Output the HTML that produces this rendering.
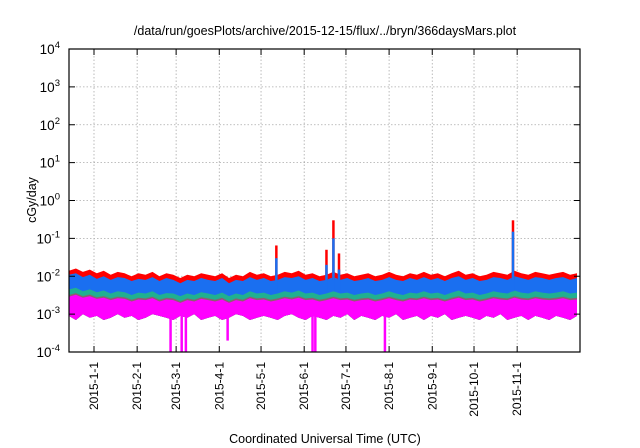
<!DOCTYPE html>
<html><head><meta charset="utf-8"><style>
body{margin:0;background:#fff;}
svg{display:block;font-family:"Liberation Sans",sans-serif;}
</style></head><body>
<svg id="chart" width="640" height="448" viewBox="0 0 640 448" xmlns="http://www.w3.org/2000/svg">
<text x="325" y="35" text-anchor="middle" font-size="12.5">/data/run/goesPlots/archive/2015-12-15/flux/../bryn/366daysMars.plot</text>
<text transform="translate(36,200) rotate(-90)" text-anchor="middle" font-size="12.5">cGy/day</text>
<text x="325" y="443" text-anchor="middle" font-size="12.5">Coordinated Universal Time (UTC)</text>
<g id="grid"></g><g id="series"></g><g id="axes"></g>
</svg>
<script>
const monthLabels=["2015-1-1","2015-2-1","2015-3-1","2015-4-1","2015-5-1","2015-6-1","2015-7-1","2015-8-1","2015-9-1","2015-10-1","2015-11-1"];
const monthDays=[0,31,59,90,120,151,181,212,243,273,304];
const decades=[-4,-3,-2,-1,0,1,2,3,4];
const startDay=-18, stepDays=5;
const redTop=[0.014,0.016,0.013,0.015,0.012,0.014,0.011,0.013,0.012,0.010,0.012,0.011,0.013,0.010,0.012,0.011,0.009,0.011,0.010,0.012,0.011,0.010,0.012,0.009,0.011,0.010,0.013,0.011,0.012,0.010,0.011,0.013,0.012,0.014,0.011,0.012,0.010,0.011,0.013,0.011,0.012,0.010,0.011,0.012,0.010,0.011,0.013,0.011,0.010,0.012,0.011,0.013,0.011,0.012,0.010,0.012,0.014,0.011,0.012,0.010,0.011,0.013,0.012,0.011,0.014,0.012,0.011,0.013,0.012,0.011,0.012,0.013,0.011,0.012];
const blueTop=[0.011,0.012,0.0095,0.011,0.0085,0.010,0.008,0.0095,0.009,0.0075,0.0085,0.008,0.0095,0.0075,0.009,0.008,0.0065,0.008,0.0075,0.009,0.008,0.0075,0.009,0.0065,0.008,0.0075,0.0095,0.008,0.009,0.0075,0.008,0.0095,0.009,0.010,0.008,0.009,0.0075,0.008,0.0095,0.008,0.009,0.0075,0.008,0.009,0.0075,0.008,0.0095,0.008,0.0075,0.009,0.008,0.0095,0.008,0.009,0.0075,0.009,0.010,0.008,0.009,0.0075,0.008,0.0095,0.009,0.008,0.010,0.009,0.008,0.0095,0.009,0.008,0.009,0.0095,0.008,0.009];
const greenTop=[0.0045,0.005,0.004,0.0045,0.0038,0.0042,0.0035,0.004,0.0038,0.0032,0.0037,0.0035,0.004,0.0032,0.0036,0.0035,0.003,0.0035,0.0032,0.0038,0.0035,0.0032,0.0037,0.003,0.0035,0.0032,0.004,0.0035,0.0037,0.0032,0.0035,0.004,0.0037,0.0042,0.0035,0.0037,0.0032,0.0035,0.004,0.0035,0.0037,0.0032,0.0035,0.0037,0.0032,0.0035,0.004,0.0035,0.0032,0.0037,0.0035,0.004,0.0035,0.0037,0.0032,0.0037,0.0042,0.0035,0.0037,0.0032,0.0035,0.004,0.0037,0.0035,0.0042,0.0037,0.0035,0.004,0.0037,0.0035,0.0037,0.004,0.0035,0.0037];
const magTop=[0.0032,0.0036,0.003,0.0033,0.0028,0.003,0.0026,0.0029,0.0028,0.0024,0.0027,0.0026,0.0029,0.0024,0.0027,0.0026,0.0022,0.0026,0.0024,0.0028,0.0026,0.0024,0.0027,0.0022,0.0026,0.0024,0.0029,0.0026,0.0027,0.0024,0.0026,0.0029,0.0027,0.003,0.0026,0.0027,0.0024,0.0026,0.0029,0.0026,0.0027,0.0024,0.0026,0.0027,0.0024,0.0026,0.0029,0.0026,0.0024,0.0027,0.0026,0.0029,0.0026,0.0027,0.0024,0.0027,0.003,0.0026,0.0027,0.0024,0.0026,0.0029,0.0027,0.0026,0.003,0.0027,0.0026,0.0029,0.0027,0.0026,0.0027,0.0029,0.0026,0.0027];
const magBottom=[0.0009,0.0007,0.001,0.0008,0.0009,0.0007,0.0008,0.001,0.0008,0.0009,0.0007,0.0008,0.001,0.0009,0.0008,0.0007,0.0009,0.0008,0.001,0.0007,0.0008,0.0009,0.0007,0.0008,0.001,0.0009,0.0007,0.0008,0.0009,0.0008,0.0007,0.0009,0.001,0.0008,0.0007,0.0009,0.0008,0.0007,0.0009,0.0008,0.001,0.0007,0.0009,0.0008,0.0007,0.0009,0.0008,0.001,0.0007,0.0008,0.0009,0.0007,0.0009,0.0008,0.001,0.0007,0.0008,0.0009,0.0008,0.0007,0.0009,0.0008,0.001,0.0007,0.0008,0.0009,0.0007,0.0009,0.0008,0.0007,0.0009,0.0008,0.0007,0.0009];
const spikeDays=[131,167,172,176,301];
const spikeRed=[0.065,0.05,0.3,0.04,0.3];
const spikeBlue=[0.03,0.02,0.1,0.015,0.15];
const dipDays=[55,63,66,96,157,159,209];
const dipVals=[0.0001,0.0001,0.0001,0.0002,0.0001,0.0001,0.0001];
const L=69,R=580,T=49,B=352,x0=94,pxDay=1.392;
const xs=d=>x0+d*pxDay;
const ys=v=>T+(4-Math.log10(v))*(B-T)/8;
const NS="http://www.w3.org/2000/svg";
function mk(tag,attrs,parent){const e=document.createElementNS(NS,tag);for(const k in attrs)e.setAttribute(k,attrs[k]);parent.appendChild(e);return e;}
const grid=document.getElementById('grid'),ser=document.getElementById('series'),axes=document.getElementById('axes');
monthDays.forEach((d,i)=>{const x=xs(d);
 const g=mk('line',{x1:x,x2:x,y1:T,y2:B,stroke:'#aaa','stroke-width':0.8,'stroke-dasharray':'1.5,2'},grid);
 
 mk('line',{x1:x,x2:x,y1:B,y2:B-6,stroke:'#000'},axes);mk('line',{x1:x,x2:x,y1:T,y2:T+6,stroke:'#000'},axes);
 const t=mk('text',{transform:`translate(${x+4},${B+10}) rotate(-90)`,'text-anchor':'end','font-size':12},axes);t.textContent=monthLabels[i];
 });
decades.forEach(p=>{const y=ys(Math.pow(10,p));
 if(p>-4&&p<4){const g=mk('line',{x1:L,x2:R,y1:y,y2:y,stroke:'#aaa','stroke-width':0.8,'stroke-dasharray':'1.5,2'},grid);
 }
 mk('line',{x1:L,x2:L+6,y1:y,y2:y,stroke:'#000'},axes);mk('line',{x1:R,x2:R-6,y1:y,y2:y,stroke:'#000'},axes);
 const t=mk('text',{x:60,y:y+5,'text-anchor':'end','font-size':13.5},axes);
 
 t.innerHTML='10<tspan dy="-6" font-size="9.5">'+p+'</tspan>';});
function band(top,bot,color,name){
 let pts=top.map((v,i)=>[xs(startDay+i*stepDays),ys(v)]);
 const b=bot.map((v,i)=>[xs(startDay+i*stepDays),ys(v)]).reverse();
 pts=pts.concat(b);
 const p=mk('polygon',{points:pts.map(q=>q[0].toFixed(1)+','+q[1].toFixed(1)).join(' '),fill:color},ser);
 }
band(redTop,magBottom,'#ff0000','red-series');
band(blueTop,magBottom,'#1a6ff0','blue-series');
band(greenTop,magBottom,'#20b090','green-series');
band(magTop,magBottom,'#8a6070','brown-series');
band(magTop.map(v=>v*0.9),magBottom,'#ff00ff','magenta-series');
spikeDays.forEach((d,i)=>{const x=xs(d);
 const r=mk('line',{x1:x,x2:x,y1:ys(spikeRed[i]),y2:ys(0.008),stroke:'#ff0000','stroke-width':2.5},ser);
 
 const bl=mk('line',{x1:x,x2:x,y1:ys(spikeBlue[i]),y2:ys(0.004),stroke:'#1a6ff0','stroke-width':2.5},ser);
 });
dipDays.forEach((d,i)=>{const x=xs(d);
 const m=mk('line',{x1:x,x2:x,y1:ys(0.001),y2:ys(dipVals[i]),stroke:'#ff00ff','stroke-width':2.5},ser);
 });
const fr=mk('rect',{x:L,y:T,width:R-L,height:B-T,fill:'none',stroke:'#000','stroke-width':1.2},axes);

</script>
</body></html>
